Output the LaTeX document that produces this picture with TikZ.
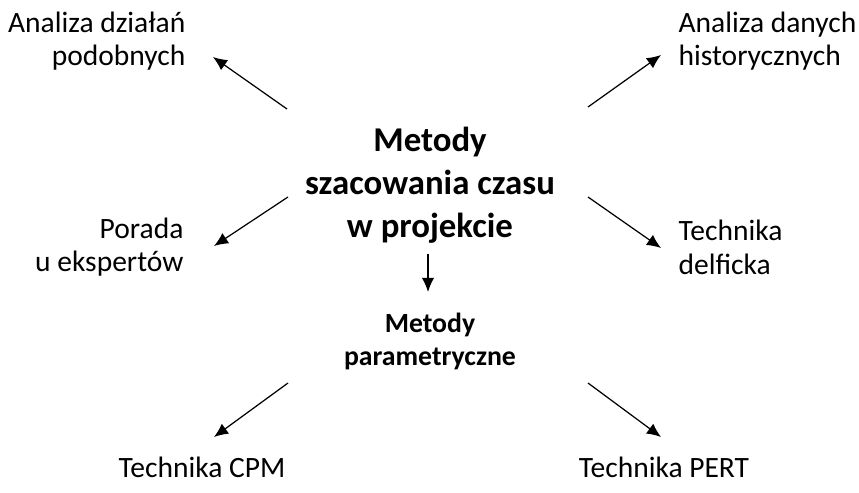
\documentclass[tikz,border=0pt]{standalone}
\usepackage{fontspec}
\setmainfont{Carlito}
\usetikzlibrary{arrows.meta}

\begin{document}
\begin{tikzpicture}[x=0.02cm, y=-0.02cm, line width=0.7pt,
    every node/.style={inner sep=0pt, font=\fontsize{16.8}{19.2}\selectfont},
    arr/.style={-{Latex[length=8pt, width=7pt]}}]
            \useasboundingbox (0,0) rectangle (859,493);
            % texts
            \node[align=center, font=\bfseries\fontsize{19.8}{24.5}\selectfont] (main) at (430,185) {Metody\\szacowania czasu\\w projekcie};
            \node[align=center, font=\bfseries\fontsize{15.8}{18.8}\selectfont] (param) at (430,341) {Metody\\parametryczne};
            \node[align=right, anchor=east] (podob) at (186,41) {Analiza działań\\podobnych};
            \node[align=left, anchor=west] (hist) at (678,41) {Analiza danych\\historycznych};
            \node[align=right, anchor=east] (porada) at (184,247) {Porada\\u ekspertów};
            \node[align=left, anchor=west] (delf) at (678,247) {Technika\\delficka};
            \node (cpm) at (202,467) {Technika CPM};
            \node (pert) at (664,467) {Technika PERT};
            % arrow ends
            \coordinate (a1) at (287,109); \coordinate (b1) at (213,57);
            \coordinate (a2) at (588,107); \coordinate (b2) at (661,55);
            \coordinate (a3) at (288,197); \coordinate (b3) at (214,246);
            \coordinate (a4) at (588,197); \coordinate (b4) at (661,248);
            \coordinate (a5) at (428,254); \coordinate (b5) at (428,292);
            \coordinate (a6) at (288,383); \coordinate (b6) at (214,437);
            \coordinate (a7) at (588,383); \coordinate (b7) at (661,437);
            \foreach \i in {1,...,7} \draw[arr] (a\i) -- (b\i);
        \end{tikzpicture}
\end{document}
